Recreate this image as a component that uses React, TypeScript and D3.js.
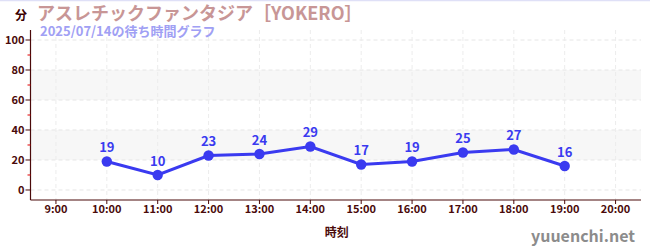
import React from "react";
import * as d3 from "d3";

const hours = [10, 11, 12, 13, 14, 15, 16, 17, 18, 19];
const waits = [19, 10, 23, 24, 29, 17, 19, 25, 27, 16];
const xTicks = [9, 10, 11, 12, 13, 14, 15, 16, 17, 18, 19, 20];
const yTicks = [0, 20, 40, 60, 80, 100];
const yMinor = [10, 30, 50, 70, 90];
const bands = [[20, 40], [60, 80]];
const title = "アスレチックファンタジア［YOKERO］";
const subtitle = "2025/07/14の待ち時間グラフ";
const unitLabel = "分";
const xTitle = "時刻";
const watermark = "yuuenchi.net";

const W = 650, H = 250;
const L = 30.5, R = 641, T = 30, B = 200;
const FONT = "'Noto Sans CJK JP', 'Noto Sans', sans-serif";
const AXIS = "#4a0a0a";
const BLUE = "#3a3af0";

export default function App() {
  const x = d3.scaleLinear().domain([8.5, 20.5]).range([L, R]);
  const y = d3.scaleLinear().domain([-6.67, 106.67]).range([B, T]);
  const pts = hours.map((h, i) => [x(h), y(waits[i])] as [number, number]);
  const line = d3.line()(pts) || "";
  return (
    <div style={{ position: "absolute", left: 0, top: 0 }}>
      <svg width={W} height={H} style={{ display: "block", fontFamily: FONT }}>
        <rect x={0} y={0} width={W} height={H} fill="#fff" />
        <line x1={0} x2={W} y1={0.5} y2={0.5} stroke="#dfe0f7" strokeWidth={1.5} />
        {bands.map(([a, b], i) => (
          <rect key={i} x={L} y={y(b)} width={R - L} height={y(a) - y(b)} fill="#f7f7f7" />
        ))}
        {yTicks.map((t) => (
          <line key={"gy" + t} x1={L} x2={R} y1={y(t)} y2={y(t)} stroke="#e6e6e6" strokeDasharray="4,3" />
        ))}
        {xTicks.map((t) => (
          <line key={"gx" + t} x1={x(t)} x2={x(t)} y1={T} y2={B} stroke="#ececec" strokeDasharray="4,3" />
        ))}
        {/* axes */}
        <line x1={L} x2={L} y1={T} y2={B} stroke={AXIS} strokeWidth={1.2} />
        <line x1={L} x2={R} y1={B} y2={B} stroke={AXIS} strokeWidth={1.2} />
        {yTicks.map((t) => (
          <g key={"yt" + t}>
            <line x1={L - 5} x2={L} y1={y(t)} y2={y(t)} stroke={AXIS} strokeWidth={1} />
            <text x={L - 6} y={y(t)} dy="0.35em" textAnchor="end" fontSize={11} fontWeight="bold" fill={AXIS}>
              {t}
            </text>
          </g>
        ))}
        {yMinor.map((t) => (
          <line key={"ym" + t} x1={L - 3} x2={L} y1={y(t)} y2={y(t)} stroke="#e00000" strokeWidth={1} />
        ))}
        {xTicks.map((t) => (
          <g key={"xt" + t}>
            <line x1={x(t)} x2={x(t)} y1={B} y2={B + 4} stroke={AXIS} strokeWidth={1} />
            <text x={x(t)} y={B + 12.5} textAnchor="middle" fontSize={11} fontWeight="bold" fill={AXIS}>
              {t}:00
            </text>
          </g>
        ))}
        <text x={(L + R) / 2 + 1} y={237} textAnchor="middle" fontSize={12} fontWeight="bold" fill={AXIS}>
          {xTitle}
        </text>
        {/* series */}
        <path d={line} fill="none" stroke={BLUE} strokeWidth={3} />
        {pts.map(([px, py], i) => (
          <g key={"p" + i}>
            <circle cx={px} cy={py} r={5.2} fill={BLUE} />
            <text x={px} y={py - 9} textAnchor="middle" fontSize={13} fontWeight="bold" fill={BLUE}>
              {waits[i]}
            </text>
          </g>
        ))}
        {/* titles */}
        <text x={15} y={20} fontSize={12} fontWeight="bold" fill="#3a0000">{unitLabel}</text>
        <text x={37} y={20} fontSize={18} fontWeight="bold" fill="#c89696">{title}</text>
        <text x={40} y={36} fontSize={13} fontWeight="bold" fill="#a0a0f4">{subtitle}</text>
        <text x={635} y={242} textAnchor="end" fontSize={16} fontWeight="bold" fill="#8c8c8c">{watermark}</text>
      </svg>
    </div>
  );
}
